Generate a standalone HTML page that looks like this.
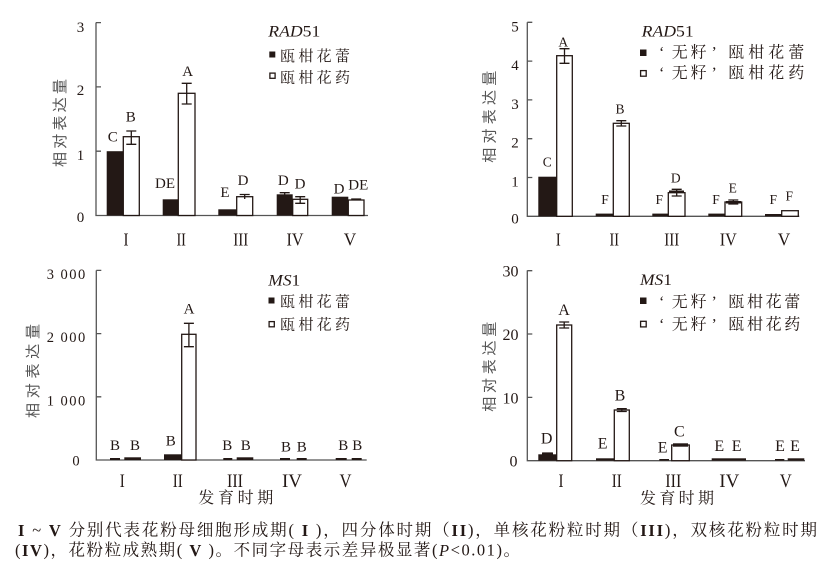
<!DOCTYPE html>
<html><head><meta charset="utf-8"><style>
html,body{margin:0;padding:0;background:#fff;}
svg{display:block;}
.t{font-family:"Liberation Serif",serif;fill:#231815;}
.c{font-family:"Liberation Serif","Noto Serif CJK SC",serif;fill:#231815;}
.yl{font-family:"Liberation Sans","Noto Sans CJK SC",sans-serif;fill:#555;}
.ax{stroke:#555;stroke-width:1.3;fill:none;}
.bk{fill:#231815;}
.wh{fill:#fff;stroke:#231815;stroke-width:1.3;}
.er{stroke:#231815;stroke-width:1.3;fill:none;}
</style></head><body>
<svg width="827" height="566" viewBox="0 0 827 566" xmlns="http://www.w3.org/2000/svg">
<rect width="827" height="566" fill="#fff"/>

<!-- ============ PANEL 1 ============ -->
<path class="ax" d="M96 22.5V215.5H368"/>
<path class="ax" d="M96 151.2h5M96 86.9h5M96 22.6h5"/>
<g class="t" font-size="15" text-anchor="middle">
<text x="80.5" y="32">3</text><text x="80.5" y="95">2</text><text x="80.5" y="160">1</text><text x="80.5" y="222">0</text>
</g>
<text class="yl" font-size="15" transform="translate(60.7,123) rotate(-90)" text-anchor="middle" dominant-baseline="central" textLength="88" lengthAdjust="spacing">相对表达量</text>
<!-- bars -->
<rect class="bk" x="106.7" y="151.2" width="16.6" height="64.3"/>
<rect class="wh" x="123.3" y="136.7" width="16" height="78.8"/>
<rect class="bk" x="162.7" y="199.3" width="15.6" height="16.2"/>
<rect class="wh" x="178.3" y="93.3" width="16.7" height="122.2"/>
<rect class="bk" x="218.3" y="209.3" width="18.4" height="6.2"/>
<rect class="wh" x="236.7" y="196.7" width="16" height="18.8"/>
<rect class="bk" x="276.7" y="194.3" width="16" height="21.2"/>
<rect class="wh" x="292.7" y="199.3" width="15" height="16.2"/>
<rect class="bk" x="331.7" y="196.7" width="16.6" height="18.8"/>
<rect class="wh" x="348.3" y="200" width="15.7" height="15.5"/>
<path class="er" d="M126.3 131h10M131.3 131V144.3M126.3 144.3h10
M181.7 83.3h10M186.7 83.3V104M181.7 104h10
M239.7 194.5h10M244.7 194.5V199
M279.7 192.7h10M284.7 192.7V196.7
M295.2 196.7h10M300.2 196.7V203.3M295.2 203.3h10
M351.2 199h10"/>
<g class="t" font-size="15" text-anchor="middle">
<text x="112.7" y="141.7">C</text><text x="130.7" y="121.7">B</text>
<text x="165" y="188">DE</text><text x="187.7" y="76">A</text>
<text x="225" y="197">E</text><text x="243" y="185">D</text>
<text x="283.3" y="185">D</text><text x="300" y="188.3">D</text>
<text x="339" y="193.3">D</text><text x="358.3" y="189.3">DE</text>
</g>
<g class="t" font-size="18" text-anchor="middle">
<text x="126" y="245.5" textLength="5" lengthAdjust="spacingAndGlyphs">I</text>
<text x="181.2" y="245.5" textLength="9.5" lengthAdjust="spacingAndGlyphs">II</text>
<text x="240.8" y="245.5" textLength="15" lengthAdjust="spacingAndGlyphs">III</text>
<text x="295" y="245.5" textLength="17" lengthAdjust="spacingAndGlyphs">IV</text>
<text x="350" y="245.5" textLength="12.5" lengthAdjust="spacingAndGlyphs">V</text>
</g>
<!-- legend -->
<text class="t" font-size="16" x="268.3" y="36.7" textLength="52" lengthAdjust="spacingAndGlyphs"><tspan font-style="italic">RAD</tspan>51</text>
<rect class="bk" x="269.3" y="51.5" width="6" height="6"/>
<rect x="269.9" y="73.1" width="5.2" height="5.2" fill="#fff" stroke="#231815" stroke-width="1.3"/>
<text class="c" font-size="15" x="280" y="57" dominant-baseline="central" textLength="70" lengthAdjust="spacing">瓯柑花蕾</text>
<text class="c" font-size="15" x="280" y="78.5" dominant-baseline="central" textLength="70" lengthAdjust="spacing">瓯柑花药</text>

<!-- ============ PANEL 2 ============ -->
<path class="ax" d="M527.3 22.3V216.3H799.3"/>
<path class="ax" d="M527.3 177.5h5M527.3 138.7h5M527.3 99.9h5M527.3 61.1h5M527.3 22.3h5"/>
<g class="t" font-size="15" text-anchor="middle">
<text x="515" y="31.5">5</text><text x="515" y="70">4</text><text x="515" y="109">3</text><text x="515" y="147.5">2</text><text x="515" y="186.5">1</text><text x="515" y="223.5">0</text>
</g>
<text class="yl" font-size="15" transform="translate(490,116.7) rotate(-90)" text-anchor="middle" dominant-baseline="central" textLength="92" lengthAdjust="spacing">相对表达量</text>
<rect class="bk" x="538.3" y="176.7" width="18.4" height="39.6"/>
<rect class="wh" x="556.7" y="55.7" width="15.6" height="160.6"/>
<rect class="bk" x="595.7" y="213.6" width="17.6" height="2.7"/>
<rect class="wh" x="613.3" y="123.3" width="16" height="93"/>
<rect class="bk" x="652.3" y="213.6" width="16" height="2.7"/>
<rect class="wh" x="668.3" y="192.7" width="16.7" height="23.6"/>
<rect class="bk" x="708.3" y="213.6" width="16.7" height="2.7"/>
<rect class="wh" x="725" y="202" width="16.7" height="14.3"/>
<rect class="bk" x="765" y="214" width="16.7" height="2.3"/>
<rect class="wh" x="781.7" y="210.7" width="16.6" height="5.6"/>
<path class="er" d="M559.5 48.7h10M564.5 48.7V63.3M559.5 63.3h10
M616.3 120.7h10M621.3 120.7V126M616.3 126h10
M671.7 189.3h10M676.7 189.3V196M671.7 196h10
M728.3 200h10M733.3 200V204M728.3 204h10"/>
<rect class="bk" x="669" y="190.5" width="15" height="2.5"/>
<rect class="bk" x="726" y="201" width="15" height="2.5"/>
<g class="t" font-size="13.5" text-anchor="middle">
<text x="547.3" y="166.7">C</text><text x="563.3" y="46.7">A</text>
<text x="605" y="204">F</text><text x="620" y="113.3">B</text>
<text x="659.3" y="204">F</text><text x="675.7" y="182.7">D</text>
<text x="716" y="204">F</text><text x="732.7" y="192.7">E</text>
<text x="773.3" y="204">F</text><text x="789.3" y="200.7">F</text>
</g>
<g class="t" font-size="18" text-anchor="middle">
<text x="558.3" y="245.5" textLength="5" lengthAdjust="spacingAndGlyphs">I</text>
<text x="614.3" y="245.5" textLength="9.5" lengthAdjust="spacingAndGlyphs">II</text>
<text x="671.7" y="245.5" textLength="15" lengthAdjust="spacingAndGlyphs">III</text>
<text x="728.3" y="245.5" textLength="17" lengthAdjust="spacingAndGlyphs">IV</text>
<text x="784" y="245.5" textLength="12.5" lengthAdjust="spacingAndGlyphs">V</text>
</g>
<text class="t" font-size="16" x="641.7" y="36.7" textLength="52" lengthAdjust="spacingAndGlyphs"><tspan font-style="italic">RAD</tspan>51</text>
<rect class="bk" x="640" y="49.5" width="6.5" height="6.5"/>
<rect x="640.6" y="70.6" width="5.6" height="5.6" fill="#fff" stroke="#231815" stroke-width="1.3"/>
<g class="c" font-size="16">
<text x="659" y="53" dominant-baseline="central">‘</text>
<text x="671.7" y="53" dominant-baseline="central" textLength="35" lengthAdjust="spacing">无籽</text>
<text x="711.5" y="53" dominant-baseline="central">’</text>
<text x="728.3" y="53" dominant-baseline="central" textLength="76" lengthAdjust="spacing">瓯柑花蕾</text>
<text x="659" y="73.5" dominant-baseline="central">‘</text>
<text x="671.7" y="73.5" dominant-baseline="central" textLength="35" lengthAdjust="spacing">无籽</text>
<text x="711.5" y="73.5" dominant-baseline="central">’</text>
<text x="728.3" y="73.5" dominant-baseline="central" textLength="76" lengthAdjust="spacing">瓯柑花药</text>
</g>

<!-- ============ PANEL 3 ============ -->
<path class="ax" d="M96.3 270.4V460H366.7"/>
<path class="ax" d="M96.3 396.8h5M96.3 333.6h5M96.3 270.4h5"/>
<g class="t" font-size="14.5">
<text x="46.7" y="279" textLength="38.5" lengthAdjust="spacing">3 000</text>
<text x="46.7" y="342" textLength="38.5" lengthAdjust="spacing">2 000</text>
<text x="46.7" y="405.5" textLength="38.5" lengthAdjust="spacing">1 000</text>
<text x="76" y="465.5" text-anchor="middle">0</text>
</g>
<text class="yl" font-size="15" transform="translate(33.3,371) rotate(-90)" text-anchor="middle" dominant-baseline="central" textLength="94" lengthAdjust="spacing">相对表达量</text>
<rect class="bk" x="110" y="458" width="10" height="2"/>
<rect class="bk" x="124.3" y="457.3" width="16.7" height="2.7"/>
<rect class="bk" x="164" y="454.3" width="17.7" height="5.7"/>
<rect class="wh" x="181.7" y="334.3" width="14.3" height="125.7"/>
<rect class="bk" x="223.3" y="458" width="9" height="2"/>
<rect class="bk" x="236.7" y="457.3" width="16.6" height="2.7"/>
<rect class="bk" x="280" y="458" width="10" height="2"/>
<rect class="bk" x="296.7" y="458" width="10" height="2"/>
<rect class="bk" x="335.7" y="458" width="11" height="2"/>
<rect class="bk" x="351.7" y="458" width="10" height="2"/>
<path class="er" d="M183.9 323.3h10M188.9 323.3V346.7M183.9 346.7h10"/>
<g class="t" font-size="15" text-anchor="middle">
<text x="115" y="450">B</text><text x="135" y="450">B</text>
<text x="170.7" y="445.7">B</text><text x="189" y="313.3">A</text>
<text x="227.3" y="450">B</text><text x="245.7" y="450">B</text>
<text x="286" y="451.7">B</text><text x="301.7" y="451.7">B</text>
<text x="343.3" y="450">B</text><text x="357.3" y="450">B</text>
</g>
<g class="t" font-size="19" text-anchor="middle">
<text x="122.3" y="487" textLength="5" lengthAdjust="spacingAndGlyphs">I</text>
<text x="177.7" y="487" textLength="10" lengthAdjust="spacingAndGlyphs">II</text>
<text x="235" y="487" textLength="16" lengthAdjust="spacingAndGlyphs">III</text>
<text x="292" y="487" textLength="20" lengthAdjust="spacingAndGlyphs">IV</text>
<text x="345.5" y="487" textLength="12" lengthAdjust="spacingAndGlyphs">V</text>
</g>
<text class="c" font-size="16" x="198.3" y="498.5" dominant-baseline="central" textLength="75" lengthAdjust="spacing">发育时期</text>
<text class="t" font-size="16" x="268.3" y="285.5" textLength="32" lengthAdjust="spacingAndGlyphs"><tspan font-style="italic">MS</tspan>1</text>
<rect class="bk" x="268.5" y="297.5" width="6" height="6"/>
<rect x="269.1" y="321.6" width="5.2" height="5.2" fill="#fff" stroke="#231815" stroke-width="1.3"/>
<text class="c" font-size="15" x="280" y="302.5" dominant-baseline="central" textLength="70" lengthAdjust="spacing">瓯柑花蕾</text>
<text class="c" font-size="15" x="280" y="325.5" dominant-baseline="central" textLength="70" lengthAdjust="spacing">瓯柑花药</text>

<!-- ============ PANEL 4 ============ -->
<path class="ax" d="M527.3 270.4V460.7H805"/>
<path class="ax" d="M527.3 397.4h5M527.3 334h5M527.3 270.7h5"/>
<g class="t" font-size="16" text-anchor="end">
<text x="518.5" y="276.5">30</text><text x="518.5" y="340">20</text><text x="518.5" y="403.5">10</text><text x="517.5" y="466.5">0</text>
</g>
<text class="yl" font-size="15" transform="translate(490,366.7) rotate(-90)" text-anchor="middle" dominant-baseline="central" textLength="90" lengthAdjust="spacing">相对表达量</text>
<rect class="bk" x="538.3" y="454.3" width="18.4" height="6.4"/>
<rect class="wh" x="556.7" y="325" width="15" height="135.7"/>
<rect class="bk" x="596" y="458.3" width="18.3" height="2.4"/>
<rect class="wh" x="614.3" y="410" width="15" height="50.7"/>
<rect class="bk" x="659.3" y="459" width="9.7" height="1.7"/>
<rect class="wh" x="671.7" y="445" width="17.6" height="15.7"/>
<rect class="bk" x="711.7" y="458.3" width="34.3" height="2.4"/>
<rect class="bk" x="775" y="459" width="9.3" height="1.7"/>
<rect class="bk" x="787.7" y="458.3" width="16.6" height="2.4"/>
<path class="er" d="M559.2 322h10M564.2 322V328M559.2 328h10
M616.8 408.7h10M621.8 408.7V411.5M616.8 411.5h10
M542.5 453h10M547.5 453V456"/>
<rect class="bk" x="673" y="443.3" width="15" height="3.4"/>
<rect class="bk" x="542" y="452.5" width="11" height="3"/>
<g class="t" font-size="16" text-anchor="middle">
<text x="546.7" y="443.3">D</text><text x="564" y="315">A</text>
<text x="602.7" y="448.3">E</text><text x="620" y="400.7">B</text>
<text x="662.7" y="452.3">E</text><text x="679.3" y="436.7">C</text>
<text x="719.3" y="451">E</text><text x="736.7" y="451">E</text>
<text x="780" y="451">E</text><text x="795" y="451">E</text>
</g>
<g class="t" font-size="19" text-anchor="middle">
<text x="561" y="487" textLength="5" lengthAdjust="spacingAndGlyphs">I</text>
<text x="616.7" y="487" textLength="10" lengthAdjust="spacingAndGlyphs">II</text>
<text x="673.3" y="487" textLength="16" lengthAdjust="spacingAndGlyphs">III</text>
<text x="729.3" y="487" textLength="20" lengthAdjust="spacingAndGlyphs">IV</text>
<text x="785.7" y="487" textLength="12" lengthAdjust="spacingAndGlyphs">V</text>
</g>
<text class="c" font-size="16" x="640" y="499" dominant-baseline="central" textLength="74" lengthAdjust="spacing">发育时期</text>
<text class="t" font-size="16" x="640" y="285" textLength="32" lengthAdjust="spacingAndGlyphs"><tspan font-style="italic">MS</tspan>1</text>
<rect class="bk" x="640" y="297.5" width="6.5" height="6.5"/>
<rect x="640.6" y="321.3" width="5.6" height="5.6" fill="#fff" stroke="#231815" stroke-width="1.3"/>
<g class="c" font-size="16">
<text x="659" y="302.5" dominant-baseline="central">‘</text>
<text x="671.7" y="302.5" dominant-baseline="central" textLength="35" lengthAdjust="spacing">无籽</text>
<text x="711.5" y="302.5" dominant-baseline="central">’</text>
<text x="728.3" y="302.5" dominant-baseline="central" textLength="72" lengthAdjust="spacing">瓯柑花蕾</text>
<text x="659" y="325" dominant-baseline="central">‘</text>
<text x="671.7" y="325" dominant-baseline="central" textLength="35" lengthAdjust="spacing">无籽</text>
<text x="711.5" y="325" dominant-baseline="central">’</text>
<text x="728.3" y="325" dominant-baseline="central" textLength="72" lengthAdjust="spacing">瓯柑花药</text>
</g>

<!-- ============ CAPTION ============ -->
<text class="c" font-size="16.5" x="18" y="530" dominant-baseline="central" textLength="799" lengthAdjust="spacing"><tspan font-weight="bold">I</tspan> ~ <tspan font-weight="bold">V</tspan> 分别代表花粉母细胞形成期( <tspan font-weight="bold">I</tspan> )，四分体时期（<tspan font-weight="bold">II</tspan>)，单核花粉粒时期（<tspan font-weight="bold">III</tspan>)，双核花粉粒时期</text>
<text class="c" font-size="16.5" x="15" y="550" dominant-baseline="central" textLength="505" lengthAdjust="spacing">(<tspan font-weight="bold">IV</tspan>)，花粉粒成熟期( <tspan font-weight="bold">V</tspan> )。不同字母表示差异极显著(<tspan font-style="italic">P</tspan>&lt;0.01)。</text>
</svg>
</body></html>
